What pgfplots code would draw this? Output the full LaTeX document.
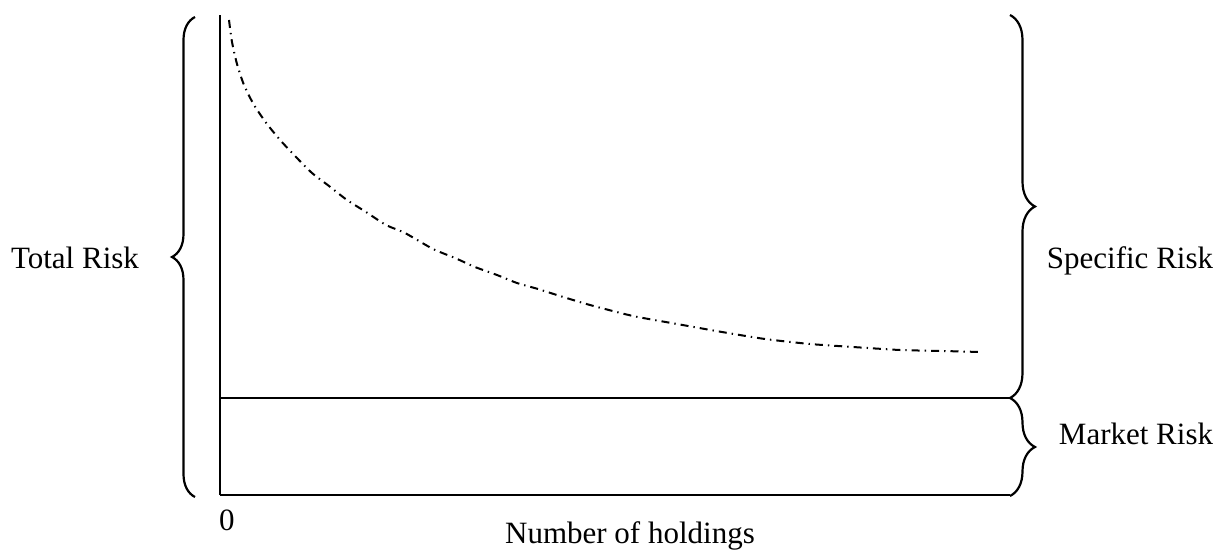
\documentclass[border=0pt]{standalone}
\usepackage{fontspec}
\setmainfont{Liberation Serif}
\usepackage{pgfplots}
\pgfplotsset{compat=1.18}
\usetikzlibrary{decorations.pathreplacing}
\begin{document}
\begin{tikzpicture}
\begin{axis}[
  x=0.5pt, y=0.5pt,
  xmin=0, xmax=790, ymin=0, ymax=480,
  axis lines=left,
  axis line style={-, line width=1.1pt},
  xtick=\empty, ytick=\empty,
  clip=false,
]
% specific risk curve
\addplot[black, line width=1pt, dash pattern=on 4pt off 2.5pt on 0.7pt off 2.5pt, smooth, tension=0.4] coordinates {
(9,475) (12,453) (17,431) (24,410) (34,390) (47,371) (61,354) (76,338) (92,322)
(109,309) (127,295) (146,283) (166,270) (185,262) (213,246) (235,237) (255,228)
(277,220) (297,212) (318,206) (340,199) (370,190) (413,179) (457,171) (502,163)
(545,156) (590,151) (633,148) (680,145) (723,144) (760,143)
};
% market risk level
\addplot[black, line width=1.1pt] coordinates {(0,97) (790,97)};
% braces
\draw[line width=1.1pt, decorate, decoration={brace, amplitude=11.5pt}] (axis cs:-25,-2) -- (axis cs:-25,478);
\draw[line width=1.1pt, decorate, decoration={brace, amplitude=12.5pt}] (axis cs:790,480) -- (axis cs:790,97);
\draw[line width=1.1pt, decorate, decoration={brace, amplitude=12.5pt}] (axis cs:790,97) -- (axis cs:790,-1);
% labels
\node[anchor=base, font=\fontsize{15.5}{18}\selectfont] at (axis cs:-145,227) {Total Risk};
\node[anchor=base, font=\fontsize{15.5}{18}\selectfont] at (axis cs:910,226) {Specific Risk};
\node[anchor=base, font=\fontsize{15.5}{18}\selectfont] at (axis cs:916,51) {Market Risk};
\node[anchor=base, font=\fontsize{15.5}{18}\selectfont] at (axis cs:410,-48) {Number of holdings};
\node[anchor=base, font=\fontsize{15.5}{18}\selectfont] at (axis cs:7,-35) {0};
% bounding box
\path (axis cs:-220,-52) rectangle (axis cs:1002,495);
\end{axis}
\end{tikzpicture}
\end{document}
